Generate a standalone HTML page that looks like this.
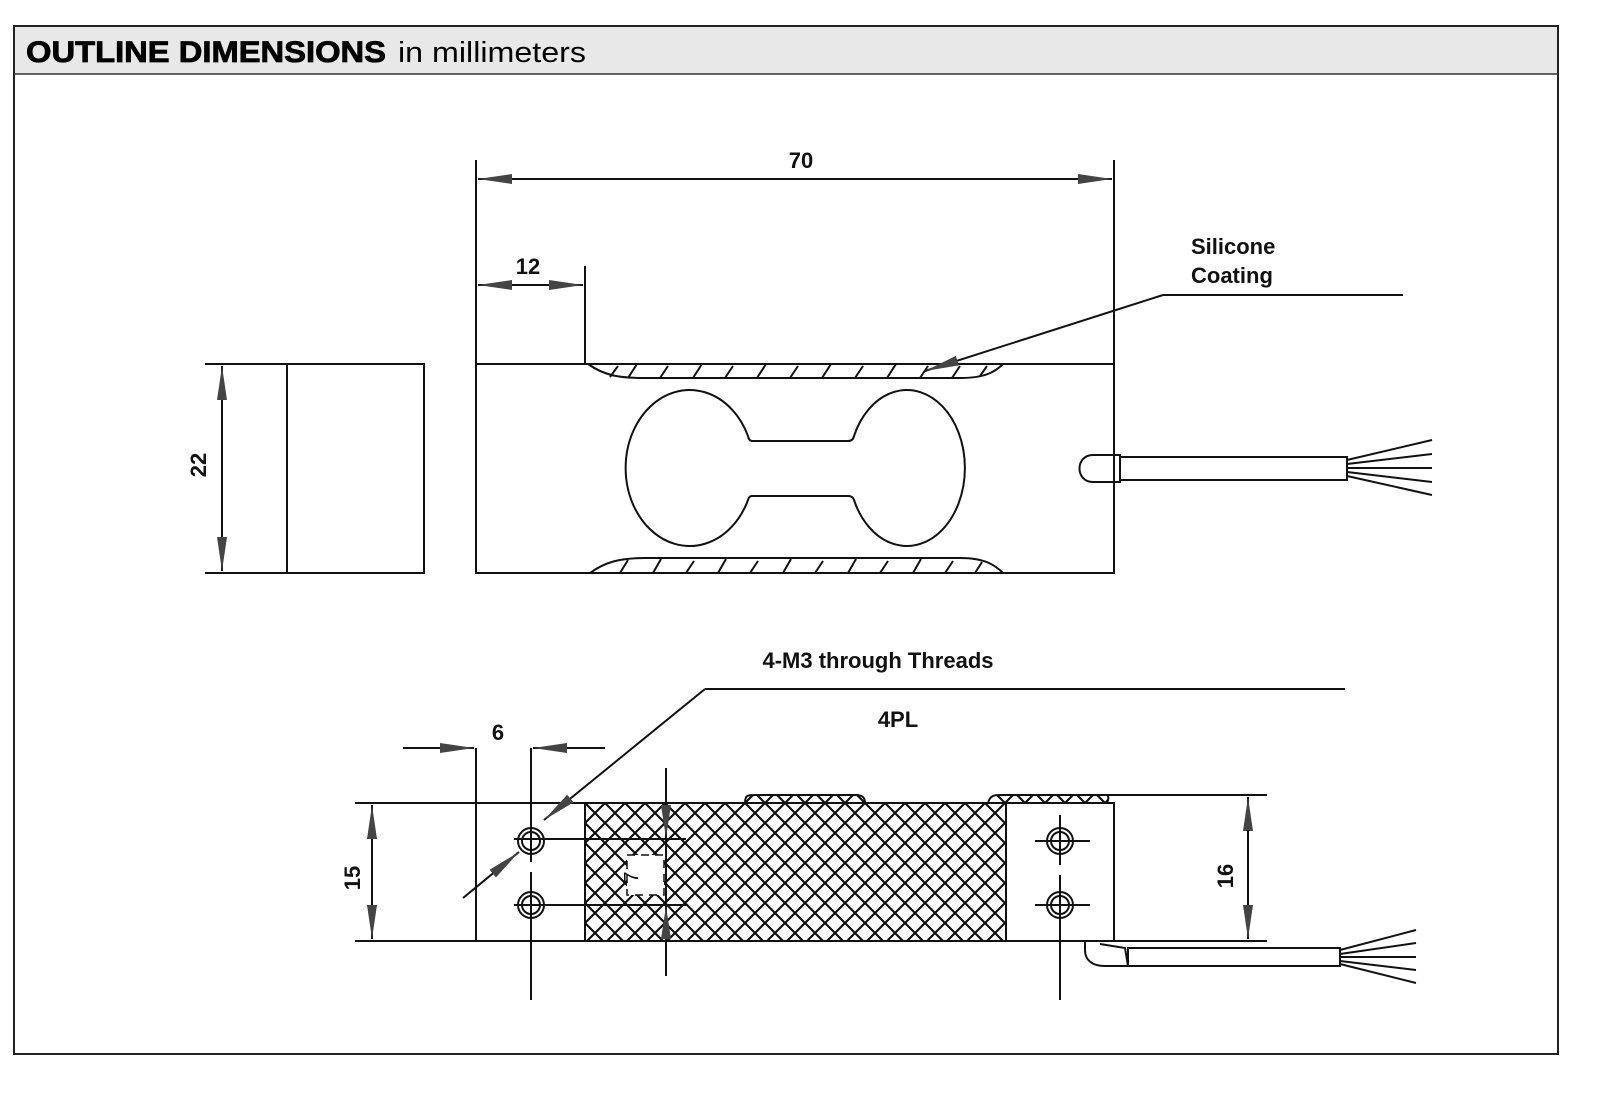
<!DOCTYPE html>
<html><head><meta charset="utf-8"><style>
html,body{margin:0;padding:0;background:#fff;overflow:hidden}
svg{display:block}
text{font-family:"Liberation Sans",Arial,sans-serif}
</style></head><body>
<svg width="1600" height="1107" viewBox="0 0 1600 1107" xmlns="http://www.w3.org/2000/svg">
<defs>
<pattern id="xh" width="20" height="20" patternUnits="userSpaceOnUse" x="585" y="803">
<path d="M0 0 L20 20 M20 0 L0 20 M-2 18 L2 22 M18 -2 L22 2" stroke="#111" stroke-width="2.2" fill="none"/>
</pattern>
<marker id="ar" viewBox="0 0 34 12" refX="34" refY="6" markerWidth="34" markerHeight="12" markerUnits="userSpaceOnUse" orient="auto">
<path d="M0 1 L34 6 L0 11 Z" fill="#444"/>
</marker>
</defs>
<rect x="14" y="26" width="1544" height="1028" fill="#fff" stroke="#222" stroke-width="2"/>
<rect x="15" y="27" width="1542" height="47" fill="#e8e8e8"/>
<line x1="14" y1="74" x2="1558" y2="74" stroke="#333" stroke-width="1.5"/>
<text x="26" y="62" font-size="30" font-weight="bold" stroke="#000" stroke-width="0.8" textLength="360" lengthAdjust="spacingAndGlyphs">OUTLINE DIMENSIONS</text>
<text x="398" y="62" font-size="29" textLength="188" lengthAdjust="spacingAndGlyphs">in millimeters</text>

<g stroke="#111" stroke-width="2" fill="none">
<rect x="287" y="364" width="137" height="209"/>
<line x1="205" y1="364" x2="287" y2="364"/>
<line x1="205" y1="573" x2="287" y2="573"/>
<line x1="222" y1="400" x2="222" y2="366" marker-end="url(#ar)"/>
<line x1="222" y1="400" x2="222" y2="540"/>
<line x1="222" y1="540" x2="222" y2="571" marker-end="url(#ar)"/>
<rect x="476" y="364" width="638" height="209"/>
<line x1="476" y1="160" x2="476" y2="364"/>
<line x1="1114" y1="160" x2="1114" y2="364"/>
<line x1="520" y1="179" x2="1070" y2="179"/>
<line x1="520" y1="179" x2="478" y2="179" marker-end="url(#ar)"/>
<line x1="1070" y1="179" x2="1112" y2="179" marker-end="url(#ar)"/>
<line x1="585" y1="266" x2="585" y2="364"/>
<line x1="520" y1="285" x2="478" y2="285" marker-end="url(#ar)"/>
<line x1="530" y1="285" x2="583" y2="285" marker-end="url(#ar)"/>
<line x1="520" y1="285" x2="530" y2="285"/>
<path d="M588 364 C605 376 620 378 645 378 L960 378 C985 378 995 372 1003 364"/>
<path d="M590 573 C605 562 620 558 645 558 L960 558 C985 558 995 565 1003 573"/>
<path d="M610 377 L618 366 M628 378 L637 364 M660 378 L668 366 M693 378 L702 364 M725 378 L733 366 M757 378 L766 364 M790 378 L798 366 M822 378 L831 364 M855 378 L863 366 M887 378 L896 364 M920 378 L928 366 M952 378 L960 366 M980 376 L987 366"/>
<path d="M620 573 L628 560 M653 573 L661 559 M686 573 L694 561 M718 573 L726 559 M750 573 L758 561 M783 573 L791 559 M815 573 L823 561 M848 573 L856 559 M880 573 L888 561 M913 573 L921 559 M945 573 L953 561 M975 573 L982 562"/>
<path d="M752 441 L848 441 Q853 441 854 436 A58 78 0 1 1 854 500 Q853 496 848 496 L752 496 Q749 496 748 500 A64 78 0 1 1 748 436 Q749 441 752 441 Z"/>
<path d="M1114 455 L1093 455 C1075 455 1075 482 1093 482 L1114 482"/>
<rect x="1114" y="455" width="6" height="27"/>
<rect x="1120" y="457" width="227" height="23"/>
<path d="M1347 460 L1432 440 M1347 464 L1432 454 M1347 468 L1432 468 M1347 472 L1432 482 M1347 476 L1432 495"/>
<line x1="1163" y1="295" x2="1403" y2="295"/>
<line x1="1163" y1="295" x2="925" y2="371" marker-end="url(#ar)"/>

<rect x="585" y="803" width="421" height="138" fill="url(#xh)"/>
<path d="M745 803 C745 795 748 795 755 795 L856 795 C863 795 865 798 865 803" fill="url(#xh)"/>
<path d="M988 803 C990 795 995 795 1000 795 L1107 795 C1110 797 1107 803 1107 803" fill="url(#xh)"/>
<line x1="355" y1="803" x2="1006" y2="803"/>
<line x1="355" y1="941" x2="1267" y2="941"/>
<line x1="1000" y1="795" x2="1267" y2="795"/>
<rect x="1006" y="803" width="108" height="138"/>
<line x1="476" y1="748" x2="476" y2="941"/>
<line x1="531" y1="748" x2="531" y2="862"/>
<line x1="531" y1="872" x2="531" y2="1000"/>
<line x1="403" y1="748" x2="474" y2="748" marker-end="url(#ar)"/>
<line x1="605" y1="748" x2="533" y2="748" marker-end="url(#ar)"/>
<line x1="372" y1="840" x2="372" y2="805" marker-end="url(#ar)"/>
<line x1="372" y1="840" x2="372" y2="905"/>
<line x1="372" y1="905" x2="372" y2="939" marker-end="url(#ar)"/>
<line x1="1248" y1="830" x2="1248" y2="797" marker-end="url(#ar)"/>
<line x1="1248" y1="830" x2="1248" y2="905"/>
<line x1="1248" y1="905" x2="1248" y2="939" marker-end="url(#ar)"/>
<circle cx="531" cy="841" r="9"/><circle cx="531" cy="841" r="13"/>
<circle cx="531" cy="905" r="9"/><circle cx="531" cy="905" r="13"/>
<line x1="514" y1="839" x2="686" y2="839"/>
<line x1="514" y1="905" x2="686" y2="905"/>
<circle cx="1060" cy="841" r="9"/><circle cx="1060" cy="841" r="13"/>
<circle cx="1060" cy="905" r="9"/><circle cx="1060" cy="905" r="13"/>
<line x1="1035" y1="841" x2="1090" y2="841"/>
<line x1="1035" y1="905" x2="1090" y2="905"/>
<line x1="1060" y1="815" x2="1060" y2="865"/>
<line x1="1060" y1="875" x2="1060" y2="1000"/>
<rect x="627" y="855" width="37" height="40" fill="#fff" stroke="none"/>
<rect x="627" y="855" width="37" height="40" stroke-dasharray="8 6" stroke-width="1.5"/>
<line x1="666" y1="768" x2="666" y2="976"/>
<path d="M661 805 L666 838 L671 805 Z M661 939 L666 906 L671 939 Z" fill="#444" stroke="none"/>
<line x1="1345" y1="689" x2="705" y2="689"/>
<line x1="705" y1="689" x2="544" y2="820" marker-end="url(#ar)"/>
<line x1="463" y1="898" x2="519" y2="852" marker-end="url(#ar)"/>
<path d="M1085 941 L1085 950 C1085 960 1092 966 1105 966 L1128 966 L1125 948 L1100 944"/>
<rect x="1128" y="948" width="212" height="18"/>
<path d="M1340 950 L1416 930 M1340 954 L1416 943 M1340 957 L1416 957 M1340 961 L1416 970 M1340 964 L1416 983"/>
</g>
<g font-weight="bold" fill="#111">
<text x="801" y="168" font-size="22" text-anchor="middle">70</text>
<text x="528" y="274" font-size="22" text-anchor="middle">12</text>
<text x="1191" y="254" font-size="22">Silicone</text>
<text x="1191" y="283" font-size="22">Coating</text>
<text x="878" y="668" font-size="22" text-anchor="middle">4-M3 through Threads</text>
<text x="898" y="727" font-size="22" text-anchor="middle">4PL</text>
<text x="498" y="740" font-size="22" text-anchor="middle">6</text>
<text transform="translate(206,465) rotate(-90)" font-size="22" text-anchor="middle">22</text>
<text transform="translate(360,878) rotate(-90)" font-size="22" text-anchor="middle">15</text>
<text transform="translate(1233,876) rotate(-90)" font-size="22" text-anchor="middle">16</text>
<text transform="translate(638,877) rotate(-90)" font-size="20" font-weight="normal" text-anchor="middle">7</text>
</g>
</svg>
</body></html>
